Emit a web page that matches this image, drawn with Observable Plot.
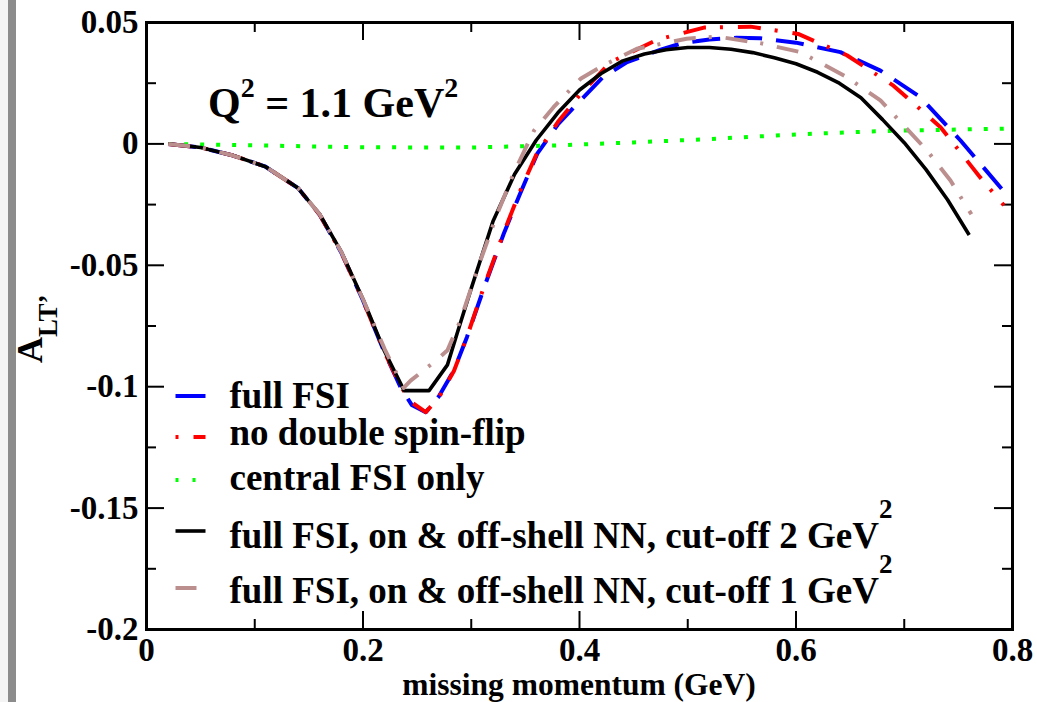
<!DOCTYPE html>
<html>
<head>
<meta charset="utf-8">
<script src="https://cdn.jsdelivr.net/npm/d3@7"></script>
<script src="https://cdn.jsdelivr.net/npm/@observablehq/plot@0.6"></script>
<style>
html,body{margin:0;padding:0;background:#fff;}
#wrap{position:relative;width:1037px;height:702px;overflow:hidden;background:#fff;}
#edge1{position:absolute;left:0;top:0;width:8px;height:702px;background:#f4f4f4;}
#edge2{position:absolute;left:8px;top:0;width:8px;height:702px;background:#8c8c8c;}
</style>
</head>
<body>
<div id="wrap"><div id="edge1"></div><div id="edge2"></div></div>
<script>
// ---------- data ----------
const fullFSI_x = [0.02,0.05,0.08,0.11,0.14,0.16,0.18,0.20,0.22,0.235,0.245,0.258,0.27,0.284,0.296,0.312,0.33,0.345,0.361,0.38,0.40,0.421,0.444,0.475,0.495,0.52,0.545,0.567,0.60,0.641,0.678,0.715,0.752,0.79];
const fullFSI_y = [0,-0.0015,-0.0048,-0.0094,-0.0182,-0.0292,-0.0448,-0.0645,-0.0860,-0.1005,-0.1075,-0.1105,-0.1040,-0.0933,-0.0796,-0.0590,-0.0370,-0.0206,-0.0040,0.0080,0.0175,0.0272,0.0337,0.0388,0.0415,0.0430,0.0437,0.0435,0.0417,0.0378,0.0302,0.0192,0.0014,-0.0185];

const noDSF_x = [0.02,0.05,0.08,0.11,0.14,0.16,0.18,0.20,0.22,0.235,0.245,0.258,0.27,0.284,0.296,0.312,0.33,0.345,0.36,0.38,0.40,0.4287,0.4718,0.515,0.558,0.602,0.647,0.69,0.7335,0.77,0.792];
const noDSF_y = [0,-0.0015,-0.0048,-0.0094,-0.0182,-0.0292,-0.0448,-0.0645,-0.0860,-0.1000,-0.1065,-0.1105,-0.1045,-0.0935,-0.0795,-0.0585,-0.0365,-0.0195,-0.0045,0.0090,0.0200,0.0337,0.0429,0.0479,0.0483,0.0453,0.0365,0.0240,0.0069,-0.0137,-0.0253];

const central_x = [0.02,0.1,0.2,0.3,0.38,0.45,0.52,0.6,0.68,0.793];
const central_y = [0,-0.0006,-0.0014,-0.0015,-0.0006,0.0006,0.0020,0.0039,0.0053,0.0063];

const cut2_x = [0.02,0.05,0.08,0.11,0.14,0.16,0.18,0.20,0.22,0.238,0.261,0.278,0.287,0.30,0.32,0.34,0.36,0.38,0.40,0.42,0.44,0.46,0.48,0.50,0.52,0.54,0.56,0.58,0.60,0.62,0.64,0.66,0.68,0.70,0.72,0.74,0.76];
const cut2_y = [0,-0.0015,-0.0048,-0.0094,-0.0182,-0.0290,-0.0445,-0.0640,-0.0855,-0.1016,-0.1016,-0.0910,-0.0780,-0.0595,-0.0320,-0.0125,0.0015,0.0128,0.0222,0.0290,0.0342,0.0370,0.0388,0.0397,0.0397,0.0390,0.0376,0.0355,0.0330,0.0295,0.0250,0.0190,0.0100,0.0005,-0.0105,-0.0230,-0.0375];

const cut1_x = [0.02,0.05,0.08,0.11,0.14,0.16,0.18,0.20,0.22,0.2375,0.244,0.2655,0.278,0.29,0.3085,0.324,0.339,0.358,0.376,0.401,0.419,0.453,0.499,0.527,0.567,0.604,0.647,0.678,0.721,0.7427,0.762];
const cut1_y = [0,-0.0015,-0.0048,-0.0094,-0.0182,-0.0290,-0.0445,-0.0640,-0.0845,-0.1005,-0.0975,-0.0899,-0.0850,-0.0727,-0.0480,-0.0288,-0.0123,0.0055,0.0151,0.0268,0.0316,0.0392,0.0433,0.0442,0.0415,0.0378,0.0275,0.0179,-0.0027,-0.0151,-0.0290];

const xMajorTicks = [0,0.2,0.4,0.6,0.8];
const xTickLabels = ["0","0.2","0.4","0.6","0.8"];
const xMinorTicks = [0.1,0.3,0.5,0.7];
const yMajorTicks = [-0.2,-0.15,-0.1,-0.05,0,0.05];
const yTickLabels = ["-0.2","-0.15","-0.1","-0.05","0","0.05"];
const yMinorTicks = [-0.175,-0.125,-0.075,-0.025,0.025];

const legendLabels = ["full FSI","no double spin-flip","central FSI only","full FSI, on & off-shell NN, cut-off 2 GeV","full FSI, on & off-shell NN, cut-off 1 GeV"];
const legendSup = ["","","","2","2"];
const xLabel = "missing momentum (GeV)";
const yLabelMain = "A", yLabelSub = "LT\u2019";
const annotation = ["Q","2"," = 1.1 GeV","2"];

// ---------- styles ----------
const serif = "'Liberation Serif','Times New Roman',Times,serif";
const styles = [
  {stroke:"#0000ff", strokeWidth:4, dash:"28,14", legDash:"30,200"},
  {stroke:"#ff0000", strokeWidth:4, dash:"23,14,3,15", legDash:"3,15,21,200"},
  {stroke:"#00ff00", strokeWidth:4, dash:"4,12", legDash:"3,14"},
  {stroke:"#000000", strokeWidth:3.6, dash:null, legDash:null},
  {stroke:"#bc8f8f", strokeWidth:4, dash:"22,13,3,14", legDash:"21,10,4,200"}
];
const seriesXY = [[fullFSI_x,fullFSI_y],[noDSF_x,noDSF_y],[central_x,central_y],[cut2_x,cut2_y],[cut1_x,cut1_y]];
const series = seriesXY.map(([xs,ys]) => xs.map((x,i)=>({x, y: ys[i]})));

const W = 1037, H = 702, mL = 146, mR = 25, mT = 22, mB = 73;
const fw = W - mL - mR, fh = H - mT - mB;
const majorLen = 18, minorLen = 10;

const lineMarks = series.map((d,i) => Plot.line(d, {
  x:"x", y:"y", stroke: styles[i].stroke, strokeWidth: styles[i].strokeWidth,
  strokeDasharray: styles[i].dash || undefined, strokeLinecap:"butt", strokeLinejoin:"round"
}));

const plot = Plot.plot({
  width: W, height: H,
  marginLeft: mL, marginRight: mR, marginTop: mT, marginBottom: mB,
  style: {background: "transparent", fontFamily: serif, overflow: "visible"},
  x: {domain: [0, 0.8]},
  y: {domain: [-0.2, 0.05]},
  marks: [
    // inward ticks on all four sides
    Plot.ruleX(xMajorTicks, {stroke:"black", strokeWidth:2, insetTop: fh - majorLen}),
    Plot.ruleX(xMajorTicks, {stroke:"black", strokeWidth:2, insetBottom: fh - majorLen}),
    Plot.ruleX(xMinorTicks, {stroke:"black", strokeWidth:2, insetTop: fh - minorLen}),
    Plot.ruleX(xMinorTicks, {stroke:"black", strokeWidth:2, insetBottom: fh - minorLen}),
    Plot.ruleY(yMajorTicks, {stroke:"black", strokeWidth:2, insetRight: fw - majorLen}),
    Plot.ruleY(yMajorTicks, {stroke:"black", strokeWidth:2, insetLeft: fw - majorLen}),
    Plot.ruleY(yMinorTicks, {stroke:"black", strokeWidth:2, insetRight: fw - minorLen}),
    Plot.ruleY(yMinorTicks, {stroke:"black", strokeWidth:2, insetLeft: fw - minorLen}),
    Plot.axisX({ticks: xMajorTicks, tickSize: 0, tickPadding: 8, label: null,
      tickFormat: d => xTickLabels[xMajorTicks.indexOf(d)],
      fontSize: 33, fontWeight: "bold", fontFamily: serif, fill: "black"}),
    Plot.axisY({ticks: yMajorTicks, tickSize: 0, tickPadding: 8, label: null,
      tickFormat: d => yTickLabels[yMajorTicks.indexOf(d)],
      fontSize: 33, fontWeight: "bold", fontFamily: serif, fill: "black"}),
    ...lineMarks,
    Plot.frame({stroke: "black", strokeWidth: 3})
  ]
});

document.getElementById("wrap").appendChild(plot);

// ---------- text overlays: axis labels, annotation, legend ----------
const svg = d3.select(plot);
const xs = plot.scale("x");

svg.append("text")
  .attr("x", xs.apply(0.4)).attr("y", 695)
  .attr("text-anchor", "middle")
  .attr("font-family", serif).attr("font-weight", "bold").attr("font-size", 31.5)
  .attr("fill", "black")
  .text(xLabel);

const yl = svg.append("text")
  .attr("transform", "translate(42,363) rotate(-90)")
  .attr("text-anchor", "start")
  .attr("font-family", serif).attr("font-weight", "bold").attr("fill", "black");
yl.append("tspan").attr("font-size", 36).text(yLabelMain);
yl.append("tspan").attr("font-size", 27).attr("dy", 15).text(yLabelSub);

const ann = svg.append("text")
  .attr("x", 208).attr("y", 117)
  .attr("text-anchor", "start")
  .attr("font-family", serif).attr("font-weight", "bold").attr("font-size", 42).attr("fill", "black");
ann.append("tspan").text(annotation[0]);
ann.append("tspan").attr("font-size", 28).attr("dy", -20).text(annotation[1]);
ann.append("tspan").attr("dy", 20).text(annotation[2]);
ann.append("tspan").attr("font-size", 28).attr("dy", -20).text(annotation[3]);

const legLineY = [396, 437, 480, 531, 588];
const legTextY = [408, 445, 490, 548, 603];
const leg = svg.append("g").attr("text-anchor", "start");
legendLabels.forEach((lab, i) => {
  const st = styles[i];
  leg.append("line")
    .attr("x1", 175.5).attr("x2", 205.5).attr("y1", legLineY[i]).attr("y2", legLineY[i])
    .attr("stroke", st.stroke).attr("stroke-width", st.strokeWidth)
    .attr("stroke-dasharray", st.legDash);
  const t = leg.append("text")
    .attr("x", 229.5).attr("y", legTextY[i])
    .attr("text-anchor", "start")
    .attr("font-family", serif).attr("font-weight", "bold").attr("font-size", 37).attr("fill", "black");
  t.append("tspan").text(lab);
  if (legendSup[i]) t.append("tspan").attr("font-size", 27).attr("dy", -30).text(legendSup[i]);
});
</script>
</body>
</html>
